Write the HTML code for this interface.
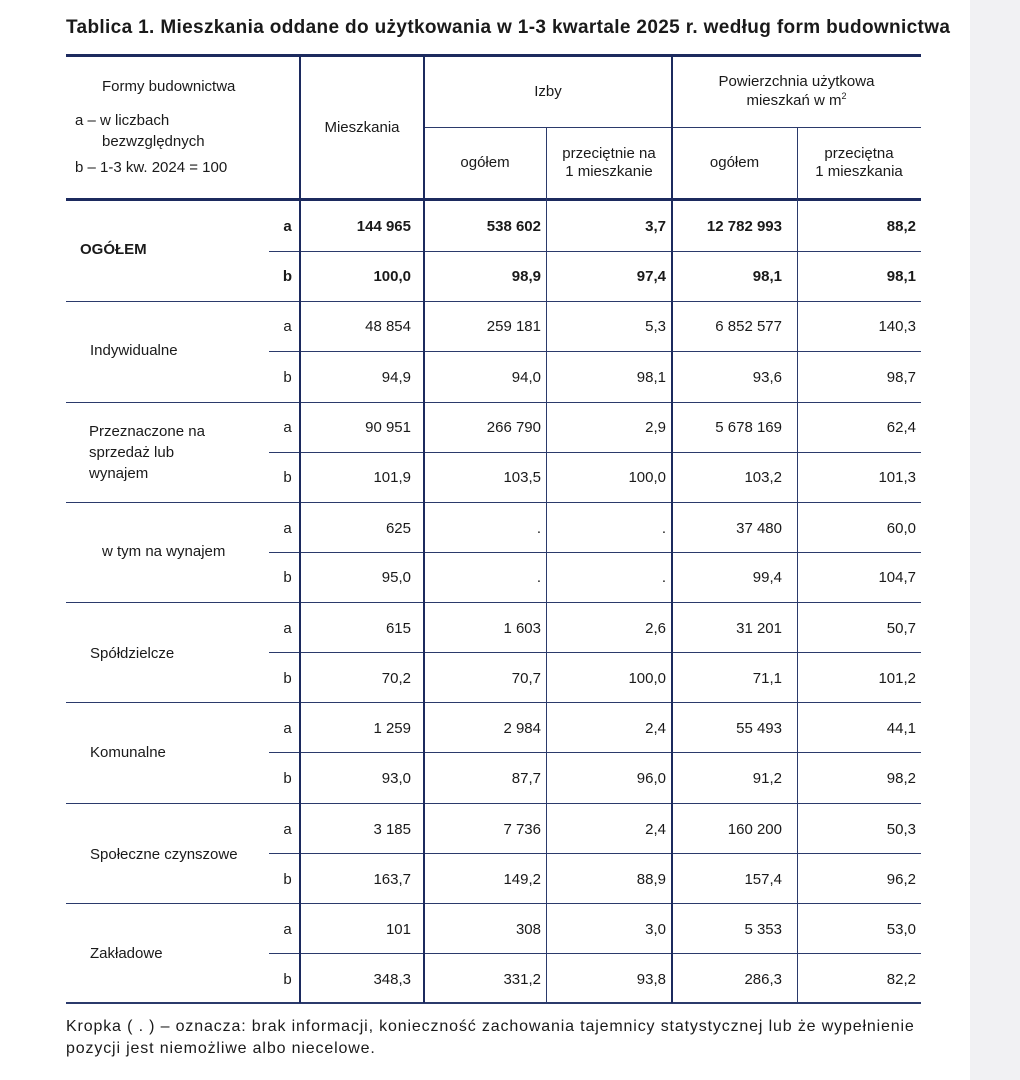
<!DOCTYPE html>
<html><head><meta charset="utf-8"><style>
body{margin:0;width:1020px;height:1080px;background:#fff;position:relative;overflow:hidden;font-family:"Liberation Sans",sans-serif;color:#1a1a1a}
.g{position:absolute;left:970px;top:0;width:50px;height:1080px;background:#f1f1f3}
.h{position:absolute;height:1px;background:#2b3a6b}
.v{position:absolute;width:1px;background:#2b3a6b}
.t{position:absolute;font-size:15px;line-height:20px;white-space:nowrap}
.r{text-align:right}
.c{text-align:center}
.b{font-weight:bold}
</style></head><body>
<div class="g"></div>
<div class="t b" style="left:66px;top:16px;font-size:19px;line-height:24px;letter-spacing:0.35px">Tablica 1. Mieszkania oddane do użytkowania w 1-3 kwartale 2025 r. według form budownictwa</div>

<div class="h" style="left:66px;width:855px;top:54px;height:3px;background:#1c2a5e"></div>
<div class="h" style="left:424px;width:497px;top:127px"></div>
<div class="h" style="left:66px;width:855px;top:198px;height:3px;background:#1c2a5e"></div>
<div class="h" style="left:66px;width:855px;top:301px"></div>
<div class="h" style="left:66px;width:855px;top:402px"></div>
<div class="h" style="left:66px;width:855px;top:502px"></div>
<div class="h" style="left:66px;width:855px;top:602px"></div>
<div class="h" style="left:66px;width:855px;top:702px"></div>
<div class="h" style="left:66px;width:855px;top:803px"></div>
<div class="h" style="left:66px;width:855px;top:903px"></div>
<div class="h" style="left:66px;width:855px;top:1002px;height:2px"></div>
<div class="h" style="left:269px;width:652px;top:251px"></div>
<div class="h" style="left:269px;width:652px;top:351px"></div>
<div class="h" style="left:269px;width:652px;top:452px"></div>
<div class="h" style="left:269px;width:652px;top:552px"></div>
<div class="h" style="left:269px;width:652px;top:652px"></div>
<div class="h" style="left:269px;width:652px;top:752px"></div>
<div class="h" style="left:269px;width:652px;top:853px"></div>
<div class="h" style="left:269px;width:652px;top:953px"></div>
<div class="v" style="left:299px;top:55px;height:948px;width:2px;background:#1c2a5e"></div>
<div class="v" style="left:423px;top:55px;height:948px;width:2px;background:#1c2a5e"></div>
<div class="v" style="left:546px;top:127px;height:876px"></div>
<div class="v" style="left:671px;top:55px;height:948px;width:2px;background:#1c2a5e"></div>
<div class="v" style="left:797px;top:127px;height:876px"></div>

<div class="t" style="left:102px;top:77px">Formy budownictwa</div>
<div class="t" style="left:75px;top:111px">a – w liczbach</div>
<div class="t" style="left:102px;top:132px">bezwzględnych</div>
<div class="t" style="left:75px;top:158px">b – 1-3 kw. 2024 = 100</div>
<div class="t c" style="left:300px;width:124px;top:118px">Mieszkania</div>
<div class="t c" style="left:424px;width:248px;top:82px">Izby</div>
<div class="t c" style="left:672px;width:249px;top:72px;line-height:19px">Powierzchnia użytkowa<br>mieszkań w m<sup style="font-size:9px;line-height:0">2</sup></div>
<div class="t c" style="left:424px;width:122px;top:153px">ogółem</div>
<div class="t c" style="left:546px;width:126px;top:145px;line-height:18px">przeciętnie na<br>1 mieszkanie</div>
<div class="t c" style="left:672px;width:125px;top:153px">ogółem</div>
<div class="t c" style="left:797px;width:124px;top:145px;line-height:18px">przeciętna<br>1 mieszkania</div>

<div class="t b" style="left:80px;top:240px">OGÓŁEM</div>
<div class="t" style="left:90px;top:341px">Indywidualne</div>
<div class="t" style="left:89px;top:421px;line-height:21px">Przeznaczone na<br>sprzedaż lub<br>wynajem</div>
<div class="t" style="left:102px;top:542px">w tym na wynajem</div>
<div class="t" style="left:90px;top:644px">Spółdzielcze</div>
<div class="t" style="left:90px;top:743px">Komunalne</div>
<div class="t" style="left:90px;top:845px">Społeczne czynszowe</div>
<div class="t" style="left:90px;top:944px">Zakładowe</div>

<div class="t c b" style="left:275px;width:25px;top:217px">a</div>
<div class="t c b" style="left:275px;width:25px;top:267px">b</div>
<div class="t c" style="left:275px;width:25px;top:317px">a</div><div class="t c" style="left:275px;width:25px;top:368px">b</div>
<div class="t c" style="left:275px;width:25px;top:418px">a</div><div class="t c" style="left:275px;width:25px;top:468px">b</div>
<div class="t c" style="left:275px;width:25px;top:519px">a</div><div class="t c" style="left:275px;width:25px;top:568px">b</div>
<div class="t c" style="left:275px;width:25px;top:619px">a</div><div class="t c" style="left:275px;width:25px;top:669px">b</div>
<div class="t c" style="left:275px;width:25px;top:719px">a</div><div class="t c" style="left:275px;width:25px;top:769px">b</div>
<div class="t c" style="left:275px;width:25px;top:820px">a</div><div class="t c" style="left:275px;width:25px;top:870px">b</div>
<div class="t c" style="left:275px;width:25px;top:920px">a</div><div class="t c" style="left:275px;width:25px;top:970px">b</div>

<div class="t r b" style="right:609px;top:217px">144 965</div><div class="t r b" style="right:479px;top:217px">538 602</div><div class="t r b" style="right:354px;top:217px">3,7</div><div class="t r b" style="right:238px;top:217px">12 782 993</div><div class="t r b" style="right:104px;top:217px">88,2</div>
<div class="t r b" style="right:609px;top:267px">100,0</div><div class="t r b" style="right:479px;top:267px">98,9</div><div class="t r b" style="right:354px;top:267px">97,4</div><div class="t r b" style="right:238px;top:267px">98,1</div><div class="t r b" style="right:104px;top:267px">98,1</div>

<div class="t r" style="right:609px;top:317px">48 854</div><div class="t r" style="right:479px;top:317px">259 181</div><div class="t r" style="right:354px;top:317px">5,3</div><div class="t r" style="right:238px;top:317px">6 852 577</div><div class="t r" style="right:104px;top:317px">140,3</div>
<div class="t r" style="right:609px;top:368px">94,9</div><div class="t r" style="right:479px;top:368px">94,0</div><div class="t r" style="right:354px;top:368px">98,1</div><div class="t r" style="right:238px;top:368px">93,6</div><div class="t r" style="right:104px;top:368px">98,7</div>

<div class="t r" style="right:609px;top:418px">90 951</div><div class="t r" style="right:479px;top:418px">266 790</div><div class="t r" style="right:354px;top:418px">2,9</div><div class="t r" style="right:238px;top:418px">5 678 169</div><div class="t r" style="right:104px;top:418px">62,4</div>
<div class="t r" style="right:609px;top:468px">101,9</div><div class="t r" style="right:479px;top:468px">103,5</div><div class="t r" style="right:354px;top:468px">100,0</div><div class="t r" style="right:238px;top:468px">103,2</div><div class="t r" style="right:104px;top:468px">101,3</div>

<div class="t r" style="right:609px;top:519px">625</div><div class="t r" style="right:479px;top:519px">.</div><div class="t r" style="right:354px;top:519px">.</div><div class="t r" style="right:238px;top:519px">37 480</div><div class="t r" style="right:104px;top:519px">60,0</div>
<div class="t r" style="right:609px;top:568px">95,0</div><div class="t r" style="right:479px;top:568px">.</div><div class="t r" style="right:354px;top:568px">.</div><div class="t r" style="right:238px;top:568px">99,4</div><div class="t r" style="right:104px;top:568px">104,7</div>

<div class="t r" style="right:609px;top:619px">615</div><div class="t r" style="right:479px;top:619px">1 603</div><div class="t r" style="right:354px;top:619px">2,6</div><div class="t r" style="right:238px;top:619px">31 201</div><div class="t r" style="right:104px;top:619px">50,7</div>
<div class="t r" style="right:609px;top:669px">70,2</div><div class="t r" style="right:479px;top:669px">70,7</div><div class="t r" style="right:354px;top:669px">100,0</div><div class="t r" style="right:238px;top:669px">71,1</div><div class="t r" style="right:104px;top:669px">101,2</div>

<div class="t r" style="right:609px;top:719px">1 259</div><div class="t r" style="right:479px;top:719px">2 984</div><div class="t r" style="right:354px;top:719px">2,4</div><div class="t r" style="right:238px;top:719px">55 493</div><div class="t r" style="right:104px;top:719px">44,1</div>
<div class="t r" style="right:609px;top:769px">93,0</div><div class="t r" style="right:479px;top:769px">87,7</div><div class="t r" style="right:354px;top:769px">96,0</div><div class="t r" style="right:238px;top:769px">91,2</div><div class="t r" style="right:104px;top:769px">98,2</div>

<div class="t r" style="right:609px;top:820px">3 185</div><div class="t r" style="right:479px;top:820px">7 736</div><div class="t r" style="right:354px;top:820px">2,4</div><div class="t r" style="right:238px;top:820px">160 200</div><div class="t r" style="right:104px;top:820px">50,3</div>
<div class="t r" style="right:609px;top:870px">163,7</div><div class="t r" style="right:479px;top:870px">149,2</div><div class="t r" style="right:354px;top:870px">88,9</div><div class="t r" style="right:238px;top:870px">157,4</div><div class="t r" style="right:104px;top:870px">96,2</div>

<div class="t r" style="right:609px;top:920px">101</div><div class="t r" style="right:479px;top:920px">308</div><div class="t r" style="right:354px;top:920px">3,0</div><div class="t r" style="right:238px;top:920px">5 353</div><div class="t r" style="right:104px;top:920px">53,0</div>
<div class="t r" style="right:609px;top:970px">348,3</div><div class="t r" style="right:479px;top:970px">331,2</div><div class="t r" style="right:354px;top:970px">93,8</div><div class="t r" style="right:238px;top:970px">286,3</div><div class="t r" style="right:104px;top:970px">82,2</div>

<div class="t" style="left:66px;top:1016px;line-height:22px;font-size:16px;letter-spacing:0.85px">Kropka ( . ) – oznacza: brak informacji, konieczność zachowania tajemnicy statystycznej lub że wypełnienie<br>pozycji jest niemożliwe albo niecelowe.</div>
</body></html>
